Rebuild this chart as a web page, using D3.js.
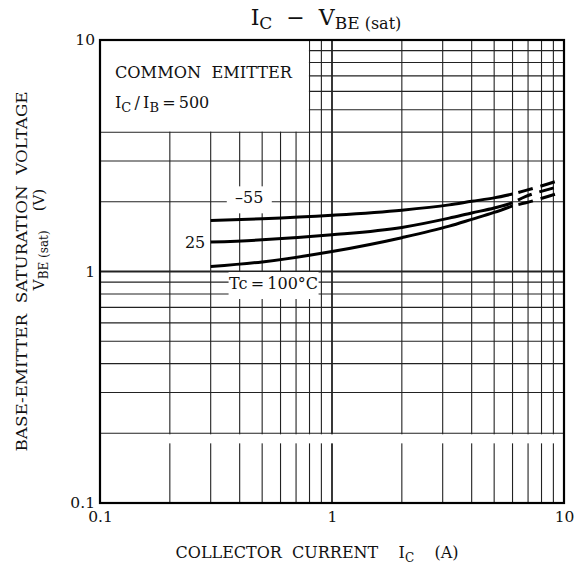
<!DOCTYPE html>
<html>
<head>
<meta charset="utf-8">
<script src="https://cdn.jsdelivr.net/npm/d3@7"></script>
<style>
  body { margin: 0; background: #fff; }
  text { font-family: "DejaVu Serif", "Liberation Serif", serif; fill: #111; white-space: pre; }
</style>
</head>
<body>
<div id="chart"></div>
<script>
// curve data
var currentA = [0.3, 0.5, 1, 2, 3.2, 4, 5, 6];
var vbeMinus55 = [1.66, 1.69, 1.75, 1.84, 1.94, 2.01, 2.08, 2.16];
var vbe25 = [1.34, 1.37, 1.44, 1.55, 1.70, 1.79, 1.88, 1.98];
var vbe100 = [1.05, 1.10, 1.22, 1.40, 1.57, 1.68, 1.80, 1.92];

// dashed (extrapolated) part
var dashCurrentA = [6, 6.85, 8.65, 9.35];
var dashMinus55 = [2.16, 2.24, 2.40, 2.46];
var dash25 = [1.98, 2.11, 2.27, 2.32];
var dash100 = [1.92, 1.98, 2.12, 2.17];

// axis ticks / grid
var tickValues = [0.1, 1, 10];
var tickLabels = ["0.1", "1", "10"];
var gridValues = [0.2, 0.3, 0.4, 0.5, 0.6, 0.7, 0.8, 0.9, 1, 2, 3, 4, 5, 6, 7, 8, 9];

var svgWidth = 581;
var svgHeight = 571;

var margin = {
  top: 40,
  right: 17,
  bottom: 68,
  left: 100
};

var width = svgWidth - margin.left - margin.right;
var height = svgHeight - margin.top - margin.bottom;

var svg = d3.select("#chart")
  .append("svg")
  .attr("width", svgWidth)
  .attr("height", svgHeight);

var chartGroup = svg.append("g")
  .attr("transform", `translate(${margin.left}, ${margin.top})`);

var xLogScale = d3.scaleLog()
  .domain([0.1, 10])
  .range([0, width]);

var yLogScale = d3.scaleLog()
  .domain([0.1, 10])
  .range([height, 0]);

// grid lines
chartGroup.selectAll(".vgrid").data(gridValues).enter()
  .append("line")
  .attr("class", "vgrid")
  .attr("x1", d => xLogScale(d))
  .attr("x2", d => xLogScale(d))
  .attr("y1", 0)
  .attr("y2", height)
  .attr("stroke", "#222")
  .attr("stroke-width", d => d == 1 ? 1.8 : 1.1);

chartGroup.selectAll(".hgrid").data(gridValues).enter()
  .append("line")
  .attr("class", "hgrid")
  .attr("x1", 0)
  .attr("x2", width)
  .attr("y1", d => yLogScale(d))
  .attr("y2", d => yLogScale(d))
  .attr("stroke", "#222")
  .attr("stroke-width", d => d == 1 ? 1.8 : 1.1);

// little break in the vertical lines just under the 0.2 line
chartGroup.append("rect")
  .attr("x", 1)
  .attr("y", yLogScale(0.2) + 1)
  .attr("width", width - 2)
  .attr("height", yLogScale(0.181) - yLogScale(0.2) - 1)
  .attr("fill", "#fff");

// white box for the condition text (top left)
chartGroup.append("rect")
  .attr("x", 0)
  .attr("y", 0)
  .attr("width", xLogScale(0.8) - 0.6)
  .attr("height", yLogScale(4) - 0.6)
  .attr("fill", "#fff");

// frame
chartGroup.append("rect")
  .attr("x", 0)
  .attr("y", 0)
  .attr("width", width)
  .attr("height", height)
  .attr("fill", "none")
  .attr("stroke", "#000")
  .attr("stroke-width", 2.2);

// curves
var line = d3.line()
  .x(d => xLogScale(d[0]))
  .y(d => yLogScale(d[1]))
  .curve(d3.curveMonotoneX);

var solidSeries = [vbeMinus55, vbe25, vbe100];
var dashSeries = [dashMinus55, dash25, dash100];

solidSeries.forEach(function(vals) {
  chartGroup.append("path")
    .datum(currentA.map((c, i) => [c, vals[i]]))
    .attr("d", line)
    .attr("fill", "none")
    .attr("stroke", "#000")
    .attr("stroke-width", 3);
});

dashSeries.forEach(function(vals) {
  chartGroup.append("path")
    .datum(dashCurrentA.map((c, i) => [c, vals[i]]))
    .attr("d", line)
    .attr("fill", "none")
    .attr("stroke", "#000")
    .attr("stroke-width", 3)
    .attr("stroke-dasharray", "0 6 15 8 15 8");
});

// curve labels with white backing
function curveLabel(x, y, txt, boxW) {
  chartGroup.append("rect")
    .attr("x", x - boxW / 2)
    .attr("y", y - 17)
    .attr("width", boxW)
    .attr("height", 27)
    .attr("fill", "#fff");
  chartGroup.append("text")
    .attr("x", x)
    .attr("y", y)
    .attr("text-anchor", "middle")
    .attr("font-size", 16)
    .text(txt);
}
curveLabel(xLogScale(0.44), yLogScale(1.97), "\u201355", 45);
curveLabel(xLogScale(0.56), yLogScale(0.84), "Tc\u2009=\u2009100\u00B0C", 90);

chartGroup.append("text")
  .attr("x", xLogScale(0.29) - 2)
  .attr("y", yLogScale(1.34) + 6)
  .attr("text-anchor", "end")
  .attr("font-size", 16)
  .text("25");

// condition text
chartGroup.append("text")
  .attr("x", 15)
  .attr("y", 38)
  .attr("font-size", 16)
  .attr("textLength", 177)
  .attr("lengthAdjust", "spacingAndGlyphs")
  .text("COMMON  EMITTER");

var cond2 = chartGroup.append("text")
  .attr("x", 15)
  .attr("y", 68)
  .attr("font-size", 16);
cond2.append("tspan").text("I");
cond2.append("tspan").attr("dy", 4).attr("font-size", 13).text("C");
cond2.append("tspan").attr("dy", -4).text("\u2009/\u2009I");
cond2.append("tspan").attr("dy", 4).attr("font-size", 13).text("B");
cond2.append("tspan").attr("dy", -4).text("\u2009=\u2009500");

// axis tick labels
var bottomAxis = d3.axisBottom(xLogScale)
  .tickValues(tickValues)
  .tickSize(0)
  .tickPadding(8)
  .tickFormat((d, i) => tickLabels[i]);

var leftAxis = d3.axisLeft(yLogScale)
  .tickValues(tickValues)
  .tickSize(0)
  .tickPadding(5)
  .tickFormat((d, i) => tickLabels[i]);

var xAxisG = chartGroup.append("g")
  .attr("transform", `translate(0, ${height})`)
  .call(bottomAxis);

var yAxisG = chartGroup.append("g")
  .call(leftAxis);

[xAxisG, yAxisG].forEach(function(g) {
  g.select(".domain").remove();
  g.selectAll("text")
    .attr("font-family", "DejaVu Serif")
    .attr("font-size", 15.5)
    .attr("fill", "#111");
});

// chart title
var title = svg.append("text")
  .attr("x", margin.left + width / 2 - 6)
  .attr("y", 25)
  .attr("text-anchor", "middle")
  .attr("font-size", 22);
title.append("tspan").text("I");
title.append("tspan").attr("dy", 4).attr("font-size", 17).text("C");
title.append("tspan").attr("dy", -4).text("  \u2212  V");
title.append("tspan").attr("dy", 4).attr("font-size", 17).text("BE");
title.append("tspan").attr("font-size", 16).text(" (sat)");

// x axis label
var xLabel = svg.append("text")
  .attr("x", margin.left + width / 2 - 15)
  .attr("y", 558)
  .attr("text-anchor", "middle")
  .attr("font-size", 16);
xLabel.append("tspan").text("COLLECTOR  CURRENT    I");
xLabel.append("tspan").attr("dy", 4).attr("font-size", 12).text("C");
xLabel.append("tspan").attr("dy", -4).text("    (A)");

// y axis label, two lines
svg.append("text")
  .attr("transform", `translate(27, ${margin.top + height / 2}) rotate(-90)`)
  .attr("text-anchor", "middle")
  .attr("font-size", 15)
  .attr("textLength", 360)
  .attr("lengthAdjust", "spacingAndGlyphs")
  .text("BASE-EMITTER  SATURATION  VOLTAGE");

var yLabel2 = svg.append("text")
  .attr("transform", `translate(44, ${margin.top + height / 2 - 32}) rotate(-90)`)
  .attr("text-anchor", "middle")
  .attr("font-size", 15);
yLabel2.append("tspan").text("V");
yLabel2.append("tspan").attr("dy", 4).attr("font-size", 12).text("BE (sat)");
yLabel2.append("tspan").attr("dy", -4).text("    (V)");
</script>
</body>
</html>
